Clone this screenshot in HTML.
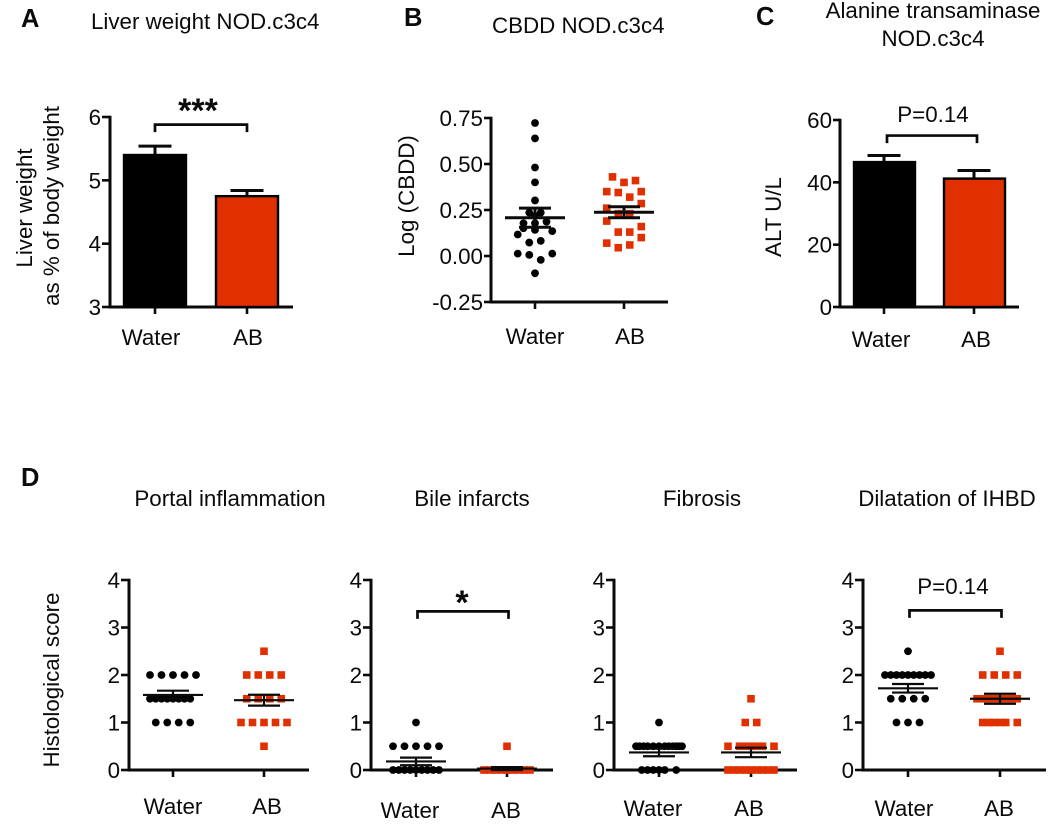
<!DOCTYPE html>
<html lang="en">
<head>
<meta charset="utf-8">
<title>Liver phenotype of NOD.c3c4 mice</title>
<style>
html,body{margin:0;padding:0;background:#fff;}
body{width:1050px;height:830px;overflow:hidden;}
svg{display:block;filter:blur(0.35px);}
text{font-family:"Liberation Sans",Arial,sans-serif;fill:#0a0a0a;font-size:22.35px;}
.letter{font-weight:bold;font-size:25.5px;}
.stars{font-weight:bold;font-size:34px;}
</style>
</head>
<body>
<svg id="chart" width="1050" height="830" viewBox="0 0 1050 830" xmlns="http://www.w3.org/2000/svg">
  <rect x="0" y="0" width="1050" height="830" fill="#fff"/>

  <text class="letter" x="21" y="27">A</text>
  <text class="letter" x="404" y="26">B</text>
  <text class="letter" x="756" y="25">C</text>
  <text class="letter" x="21" y="486">D</text>

  <text x="91" y="29">Liver weight NOD.c3c4</text>
  <text x="492" y="33">CBDD NOD.c3c4</text>
  <text x="933" y="18" text-anchor="middle">Alanine transaminase</text>
  <text x="933" y="46" text-anchor="middle">NOD.c3c4</text>
  <text x="230" y="506" text-anchor="middle">Portal inflammation</text>
  <text x="472" y="506" text-anchor="middle">Bile infarcts</text>
  <text x="702" y="506" text-anchor="middle">Fibrosis</text>
  <text x="947" y="506" text-anchor="middle">Dilatation of IHBD</text>

  <text transform="translate(32,208) rotate(-90)" text-anchor="middle">Liver weight</text>
  <text transform="translate(59,206) rotate(-90)" text-anchor="middle">as % of body weight</text>
  <text transform="translate(414,196) rotate(-90)" text-anchor="middle">Log (CBDD)</text>
  <text transform="translate(781,217) rotate(-90)" text-anchor="middle">ALT U/L</text>
  <text transform="translate(59,680) rotate(-90)" text-anchor="middle">Histological score</text>

  <text class="stars" x="198" y="122" text-anchor="middle">***</text>
  <text x="933" y="122" text-anchor="middle">P=0.14</text>
  <text class="stars" x="462" y="614" text-anchor="middle">*</text>
  <text x="953" y="594" text-anchor="middle">P=0.14</text>

  <g id="marks"></g>
</svg>

<script>
// ---- Shared categories ----
const groupLabels = ['Water', 'AB'];

// ---- Panel A: liver weight ----
const aTicks = [3, 4, 5, 6];
const aMeans = [5.4, 4.75];
const aErrors = [0.14, 0.09];

// ---- Panel B: CBDD ----
const bTicks = [-0.25, 0, 0.25, 0.5, 0.75];
const bTickLabels = ['-0.25', '0.00', '0.25', '0.50', '0.75'];
const bWaterValues = [0.723, 0.639, 0.481, 0.40, 0.302, 0.236, 0.236, 0.218, 0.178, 0.178, 0.186, 0.151, 0.142, 0.117, 0.135, 0.073, 0.082, 0.013, 0.006, 0.013, -0.021, -0.094];
const bWaterSlots = [0, 0, 0, 0, 0, -1, 1, 0, -2, 0, 2, -2, 0, -3, 3, -1, 1, -3, -1, 3, 1, 0];
const bAbValues = [0.43, 0.40, 0.41, 0.35, 0.345, 0.35, 0.32, 0.285, 0.26, 0.23, 0.23, 0.19, 0.16, 0.13, 0.13, 0.10, 0.07, 0.06, 0.045];
const bAbSlots = [-2, 0, 2, -3, -1, 3, 1, 3, -3, -1, 1, -3, 3, -1, 1, 3, -3, 1, -1];
const bMeans = [0.208, 0.238];
const bSems = [0.052, 0.03];

// ---- Panel C: ALT ----
const cTicks = [0, 20, 40, 60];
const cMeans = [46.5, 41.2];
const cErrors = [2.1, 2.6];

// ---- Panel D: histological scores ----
const dTicks = [0, 1, 2, 3, 4];

const portalWaterValues = [2, 2, 2, 2, 2, 1.5, 1.5, 1.5, 1.5, 1.5, 1.5, 1.5, 1.5, 1, 1, 1, 1];
const portalWaterSlots = [-4, -2, 0, 2, 4, -4, -3, -2, -1, 0, 1, 2, 3, -3, -1, 1, 3];
const portalAbValues = [2.5, 2, 2, 2, 2, 1.5, 1.5, 1.5, 1.5, 1, 1, 1, 1, 1, 0.5];
const portalAbSlots = [0, -3, -1, 1, 3, -3, -1, 1, 3, -4, -2, 0, 2, 4, 0];
const portalMeans = [1.58, 1.47];
const portalSems = [0.09, 0.115];

const bileWaterValues = [1, 0.5, 0.5, 0.5, 0.5, 0.5, 0, 0, 0, 0, 0, 0, 0, 0, 0];
const bileWaterSlots = [0, -4, -2, 0, 2, 4, -4, -3, -2, -1, 0, 1, 2, 3, 4];
const bileAbValues = [0.5, 0, 0, 0, 0, 0, 0, 0, 0, 0];
const bileAbSlots = [0, -4, -3, -2, -1, 0, 1, 2, 3, 4];
const bileMeans = [0.18, 0.03];
const bileSems = [0.08, 0.03];

const fibrosisWaterValues = [1, 0.5, 0.5, 0.5, 0.5, 0.5, 0.5, 0.5, 0.5, 0.5, 0.5, 0.5, 0.5, 0, 0, 0, 0, 0, 0];
const fibrosisWaterSlots = [0, -4, -3.4, -2.7, -2, -1, 0, 1, 1.7, 2.4, 3, 3.5, 4, -3, -2, -1, 0, 1, 3];
const fibrosisAbValues = [1.5, 1, 1, 0.5, 0.5, 0.5, 0.5, 0.5, 0.5, 0.5, 0, 0, 0, 0, 0, 0, 0, 0, 0];
const fibrosisAbSlots = [0, -1, 1, -4, -2, -1, 0, 1, 2, 4, -4, -3, -2, -1, 0, 1, 2, 3, 4];
const fibrosisMeans = [0.37, 0.37];
const fibrosisSems = [0.08, 0.1];

const ihbdWaterValues = [2.5, 2, 2, 2, 2, 2, 2, 2, 2, 2, 1.5, 1.5, 1.5, 1.5, 1, 1, 1];
const ihbdWaterSlots = [0, -4, -3, -2, -1, 0, 1, 2, 3, 4, -3, -1, 1, 3, -2, 0, 2];
const ihbdAbValues = [2.5, 2, 2, 2, 2, 1.5, 1.5, 1.5, 1.5, 1.5, 1.5, 1.5, 1.5, 1, 1, 1, 1, 1, 1];
const ihbdAbSlots = [0, -3, -1, 1, 3, -4, -3, -2, -1, 0, 1, 2, 3, -3, -2, -1, 0, 1, 3];
const ihbdMeans = [1.72, 1.5];
const ihbdSems = [0.09, 0.105];

// ---- Drawing helpers ----
const SVG_NS = 'http://www.w3.org/2000/svg';
const INK = '#0a0a0a';
const RED = '#e03000';
const SLOT = 5.75;
const AXIS_W = 3;
const marksRoot = document.getElementById('marks');

function make(parent, tag, name, attrs) {
  const el = document.createElementNS(SVG_NS, tag);
  
  
  Object.keys(attrs).forEach(function (k) { el.setAttribute(k, attrs[k]); });
  parent.appendChild(el);
  return el;
}

function line(parent, name, x1, y1, x2, y2, width) {
  return make(parent, 'line', name, {
    x1: x1, y1: y1, x2: x2, y2: y2,
    stroke: INK, 'stroke-width': width
  });
}

function makePanel(name, f) {
  const g = make(marksRoot, 'g', name, {});
  const y = function (v) {
    return f.bottom - (v - f.yMin) / (f.yMax - f.yMin) * (f.bottom - f.top);
  };
  const x = function (i) { return f.catA + i * (f.catB - f.catA); };
  return { g: g, x: x, y: y, f: f, name: name };
}

function drawAxes(p, ticks, tickLabels) {
  const f = p.f;
  ticks.forEach(function (t, i) {
    line(p.g, p.name + '-y-tick', f.axisX - f.tickLen, p.y(t), f.axisX, p.y(t), 2.6);
    const label = make(p.g, 'text', p.name + '-y-tick-label', {
      x: f.axisX - f.tickLen - 1, y: p.y(t) + 8, 'text-anchor': 'end'
    });
    label.textContent = tickLabels[i];
  });
  line(p.g, p.name + '-y-axis', f.axisX, f.top - 1.3, f.axisX, f.bottom + 1.5, AXIS_W);
  line(p.g, p.name + '-x-axis', f.axisX, f.bottom, f.axisEnd, f.bottom, AXIS_W);
  groupLabels.forEach(function (c, i) {
    line(p.g, p.name + '-x-tick', p.x(i), f.bottom, p.x(i), f.bottom + 7, 2.6);
    const label = make(p.g, 'text', p.name + '-x-tick-label', {
      x: f.labelX[i], y: f.labelY, 'text-anchor': 'middle'
    });
    label.textContent = c;
  });
}

function drawBars(p, means, errors, halfWidth) {
  means.forEach(function (m, i) {
    const cx = p.x(i) + p.f.barShift[i];
    line(p.g, p.name + '-error-stem', p.x(i), p.y(m), p.x(i), p.y(m + errors[i]), 3);
    line(p.g, p.name + '-error-cap', p.x(i) - 16.5, p.y(m + errors[i]), p.x(i) + 16.5, p.y(m + errors[i]), 3);
    make(p.g, 'rect', p.name + '-bar-' + groupLabels[i].toLowerCase(), {
      x: cx - halfWidth, y: p.y(m),
      width: halfWidth * 2, height: p.f.bottom - p.y(m),
      fill: i === 0 ? '#000' : RED, stroke: '#000', 'stroke-width': 2.4
    });
  });
}

function drawWater(p, values, slots) {
  values.forEach(function (v, i) {
    make(p.g, 'circle', p.name + '-water-point', {
      cx: p.x(0) + slots[i] * SLOT, cy: p.y(v), r: 3.9, fill: '#000'
    });
  });
}

function drawAb(p, values, slots) {
  values.forEach(function (v, i) {
    make(p.g, 'rect', p.name + '-ab-point', {
      x: p.x(1) + slots[i] * SLOT - 3.8, y: p.y(v) - 3.8,
      width: 7.6, height: 7.6, fill: RED
    });
  });
}

function drawSummary(p, means, sems, width) {
  means.forEach(function (m, i) {
    const c = p.x(i);
    const s = sems[i];
    line(p.g, p.name + '-mean-line', c - 30, p.y(m), c + 30, p.y(m), width);
    line(p.g, p.name + '-sem-stem', c, p.y(m - s), c, p.y(m + s), width);
    line(p.g, p.name + '-sem-cap-upper', c - 16, p.y(m + s), c + 16, p.y(m + s), width);
    line(p.g, p.name + '-sem-cap-lower', c - 16, p.y(m - s), c + 16, p.y(m - s), width);
  });
}

function drawBracket(p, level, shift) {
  const yy = p.y(level);
  const x0 = p.x(0) + shift;
  const x1 = p.x(1) + shift;
  make(p.g, 'path', p.name + '-significance-bracket', {
    d: 'M' + x0 + ' ' + (yy + 7.5) + 'V' + yy + 'H' + x1 + 'V' + (yy + 7.5),
    fill: 'none', stroke: INK, 'stroke-width': 2.7
  });
}

// ---- Panels ----
const panelA = makePanel('liver-weight-chart', {
  axisX: 110, axisEnd: 293, top: 117, bottom: 307, yMin: 3, yMax: 6, tickLen: 8,
  catA: 155, catB: 247, labelX: [151, 248], labelY: 345, barShift: [0, 0]
});
drawAxes(panelA, aTicks, aTicks.map(String));
drawBars(panelA, aMeans, aErrors, 31);
drawBracket(panelA, 5.88, 0);

const panelB = makePanel('cbdd-chart', {
  axisX: 491, axisEnd: 668, top: 118, bottom: 302, yMin: -0.25, yMax: 0.75, tickLen: 7,
  catA: 535, catB: 624, labelX: [535, 630], labelY: 344
});
drawAxes(panelB, bTicks, bTickLabels);
drawWater(panelB, bWaterValues, bWaterSlots);
drawAb(panelB, bAbValues, bAbSlots);
drawSummary(panelB, bMeans, bSems, 3);

const panelC = makePanel('alt-chart', {
  axisX: 840, axisEnd: 1019, top: 120, bottom: 307, yMin: 0, yMax: 60, tickLen: 7,
  catA: 884, catB: 974, labelX: [881, 976], labelY: 347, barShift: [0.5, 0.5]
});
drawAxes(panelC, cTicks, cTicks.map(String));
drawBars(panelC, cMeans, cErrors, 30.5);
drawBracket(panelC, 55, 3);

const panelD1 = makePanel('portal-inflammation-chart', {
  axisX: 129, axisEnd: 309, top: 580, bottom: 770, yMin: 0, yMax: 4, tickLen: 8,
  catA: 173, catB: 264, labelX: [173, 267], labelY: 814
});
drawAxes(panelD1, dTicks, dTicks.map(String));
drawWater(panelD1, portalWaterValues, portalWaterSlots);
drawAb(panelD1, portalAbValues, portalAbSlots);
drawSummary(panelD1, portalMeans, portalSems, 2.2);

const panelD2 = makePanel('bile-infarcts-chart', {
  axisX: 371, axisEnd: 553, top: 580, bottom: 770, yMin: 0, yMax: 4, tickLen: 8,
  catA: 416, catB: 507, labelX: [410, 506], labelY: 818
});
drawAxes(panelD2, dTicks, dTicks.map(String));
drawWater(panelD2, bileWaterValues, bileWaterSlots);
drawAb(panelD2, bileAbValues, bileAbSlots);
drawSummary(panelD2, bileMeans, bileSems, 2.2);
drawBracket(panelD2, 3.34, 1.5);

const panelD3 = makePanel('fibrosis-chart', {
  axisX: 614, axisEnd: 797, top: 580, bottom: 770, yMin: 0, yMax: 4, tickLen: 8,
  catA: 659, catB: 751, labelX: [653, 749], labelY: 816
});
drawAxes(panelD3, dTicks, dTicks.map(String));
drawWater(panelD3, fibrosisWaterValues, fibrosisWaterSlots);
drawAb(panelD3, fibrosisAbValues, fibrosisAbSlots);
drawSummary(panelD3, fibrosisMeans, fibrosisSems, 2.2);

const panelD4 = makePanel('dilatation-ihbd-chart', {
  axisX: 863, axisEnd: 1046, top: 580, bottom: 770, yMin: 0, yMax: 4, tickLen: 8,
  catA: 908, catB: 1000, labelX: [904, 999], labelY: 816
});
drawAxes(panelD4, dTicks, dTicks.map(String));
drawWater(panelD4, ihbdWaterValues, ihbdWaterSlots);
drawAb(panelD4, ihbdAbValues, ihbdAbSlots);
drawSummary(panelD4, ihbdMeans, ihbdSems, 2.2);
drawBracket(panelD4, 3.36, 1.5);
</script>
</body>
</html>
